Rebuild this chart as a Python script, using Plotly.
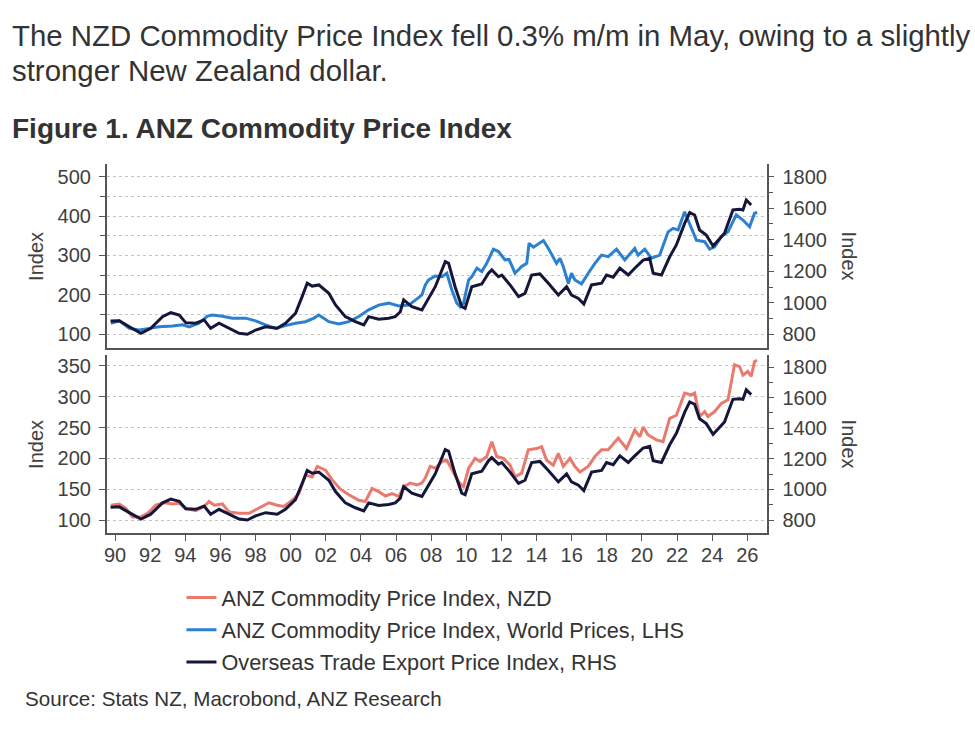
import plotly.graph_objects as go

# ---------------- text ----------------
TITLE_LINE_1 = "The NZD Commodity Price Index fell 0.3% m/m in May, owing to a slightly"
TITLE_LINE_2 = "stronger New Zealand dollar."
FIGURE_TITLE = "Figure 1. ANZ Commodity Price Index"
SOURCE_TEXT = "Source: Stats NZ, Macrobond, ANZ Research"
AXIS_TITLE = "Index"

NAME_NZD = "ANZ Commodity Price Index, NZD"
NAME_WORLD = "ANZ Commodity Price Index, World Prices, LHS"
NAME_OTI = "Overseas Trade Export Price Index, RHS"

# ---------------- data ----------------
# Overseas Trade Export Price Index (RHS, both panels)
oti_years = [1989.74, 1990.24, 1990.81, 1991.47, 1992.03, 1992.70, 1993.17, 1993.65, 1994.02, 1994.59,
             1995.07, 1995.44, 1995.92, 1996.49, 1997.06, 1997.53, 1998.00, 1998.57, 1999.23, 1999.70,
             2000.27, 2000.65, 2000.94, 2001.22, 2001.60, 2002.17, 2002.55, 2003.11, 2003.68, 2004.16,
             2004.44, 2005.01, 2005.58, 2005.95, 2006.24, 2006.43, 2006.90, 2007.47, 2008.23, 2008.80,
             2008.99, 2009.36, 2009.74, 2009.93, 2010.31, 2010.88, 2011.26, 2011.45, 2011.83, 2012.02,
             2012.49, 2012.97, 2013.34, 2013.72, 2014.19, 2014.67, 2015.24, 2015.71, 2015.99, 2016.38,
             2016.69, 2017.13, 2017.70, 2017.98, 2018.36, 2018.74, 2019.22, 2019.59, 2020.07, 2020.44,
             2020.64, 2021.11, 2021.58, 2021.96, 2022.43, 2022.72, 2023.00, 2023.28, 2023.66, 2024.05,
             2024.33, 2024.70, 2025.18, 2025.56, 2025.75, 2025.94, 2026.22]
oti_values = [884, 886, 848, 806, 838, 912, 937, 922, 874, 870,
              891, 838, 870, 838, 806, 800, 827, 848, 838, 870,
              933, 1039, 1124, 1106, 1113, 1060, 986, 912, 880, 859,
              912, 895, 902, 912, 943, 1018, 975, 954, 1102, 1261,
              1250, 1102, 975, 965, 1102, 1119, 1187, 1208, 1165, 1176,
              1113, 1039, 1060, 1176, 1183, 1124, 1049, 1102, 1049, 1028,
              992, 1113, 1124, 1176, 1162, 1219, 1176, 1219, 1271, 1282,
              1187, 1176, 1292, 1367, 1504, 1572, 1557, 1462, 1430, 1360,
              1398, 1441, 1589, 1593, 1589, 1652, 1620]

# ANZ Commodity Price Index, World Prices (LHS, top panel)
world_years = [1989.76, 1990.24, 1990.81, 1991.38, 1991.94, 1992.51, 1993.27, 1993.84, 1994.22, 1994.78,
               1995.26, 1995.54, 1996.11, 1996.68, 1997.43, 1998.00, 1998.57, 1999.14, 1999.70, 2000.27,
               2000.84, 2001.32, 2001.60, 2002.17, 2002.74, 2003.31, 2003.88, 2004.44, 2005.01, 2005.58,
               2006.15, 2006.72, 2007.19, 2007.47, 2007.66, 2007.85, 2008.23, 2008.61, 2008.89, 2009.18,
               2009.46, 2009.65, 2009.84, 2010.13, 2010.31, 2010.60, 2010.88, 2011.16, 2011.54, 2011.83,
               2012.20, 2012.43, 2012.77, 2013.15, 2013.44, 2013.57, 2013.82, 2014.39, 2014.67, 2015.14,
               2015.33, 2015.52, 2015.81, 2015.99, 2016.18, 2016.56, 2016.94, 2017.32, 2017.70, 2018.08,
               2018.55, 2019.02, 2019.59, 2019.78, 2020.16, 2020.54, 2021.01, 2021.49, 2021.77, 2022.06,
               2022.43, 2022.62, 2023.10, 2023.57, 2023.85, 2024.14, 2024.52, 2024.90, 2025.37, 2025.75,
               2026.13, 2026.41, 2026.56]
world_values = [128, 134, 115, 111, 115, 119, 121, 124, 119, 128,
                146, 149, 146, 141, 141, 134, 124, 115, 122, 128,
                132, 141, 149, 132, 126, 132, 145, 162, 174, 179,
                172, 174, 190, 200, 225, 238, 248, 246, 255, 212,
                179, 170, 179, 238, 246, 268, 259, 280, 316, 310,
                289, 290, 255, 272, 280, 331, 321, 338, 318, 280,
                293, 272, 229, 255, 238, 228, 255, 280, 301, 297,
                316, 289, 318, 301, 316, 293, 301, 360, 369, 365,
                411, 390, 339, 335, 316, 322, 348, 360, 403, 390,
                373, 407, 409]

# ANZ Commodity Price Index, NZD (LHS, bottom panel)
nzd_years = [1989.76, 1990.24, 1990.61, 1990.99, 1991.47, 1991.85, 1992.32, 1992.80, 1993.27, 1993.65,
             1994.02, 1994.59, 1995.07, 1995.35, 1995.64, 1996.11, 1996.49, 1997.06, 1997.63, 1998.19,
             1998.76, 1999.23, 1999.61, 2000.09, 2000.47, 2000.84, 2001.22, 2001.51, 2001.98, 2002.36,
             2002.83, 2003.31, 2003.88, 2004.25, 2004.63, 2005.01, 2005.39, 2005.77, 2006.15, 2006.43,
             2006.81, 2007.19, 2007.47, 2007.66, 2007.94, 2008.23, 2008.61, 2008.89, 2009.27, 2009.56,
             2009.84, 2010.13, 2010.50, 2010.78, 2011.16, 2011.45, 2011.73, 2012.11, 2012.49, 2012.77,
             2013.15, 2013.53, 2014.01, 2014.29, 2014.57, 2014.95, 2015.24, 2015.52, 2015.90, 2016.18,
             2016.47, 2016.94, 2017.32, 2017.70, 2018.08, 2018.65, 2019.12, 2019.59, 2019.88, 2020.07,
             2020.35, 2020.82, 2021.20, 2021.58, 2021.96, 2022.43, 2022.81, 2023.00, 2023.28, 2023.57,
             2023.76, 2024.14, 2024.52, 2024.90, 2025.27, 2025.56, 2025.75, 2026.03, 2026.22, 2026.41,
             2026.56]
nzd_values = [124, 126, 119, 105, 105, 111, 124, 128, 126, 127,
              119, 115, 122, 130, 124, 126, 113, 111, 111, 119,
              128, 124, 122, 132, 143, 173, 170, 187, 181, 165,
              150, 141, 132, 130, 151, 146, 139, 143, 138, 154,
              160, 157, 160, 168, 187, 184, 195, 197, 176, 162,
              154, 184, 200, 195, 203, 227, 203, 200, 189, 170,
              176, 214, 216, 219, 197, 189, 208, 187, 200, 187,
              178, 187, 203, 214, 214, 233, 216, 246, 235, 251,
              238, 230, 227, 265, 270, 306, 303, 306, 268, 276,
              268, 276, 289, 295, 352, 349, 335, 341, 333, 357,
              359]

x_tick_years = [1990, 1992, 1994, 1996, 1998, 2000, 2002, 2004, 2006, 2008,
                2010, 2012, 2014, 2016, 2018, 2020, 2022, 2024, 2026]
x_tick_labels = ["90", "92", "94", "96", "98", "00", "02", "04", "06", "08",
                 "10", "12", "14", "16", "18", "20", "22", "24", "26"]

# ---------------- styling ----------------
W, H = 975, 731
FONT = "Liberation Sans, Arial, sans-serif"
C_NZD = "#ea7a6e"
C_WORLD = "#2b80d0"
C_OTI = "#15173a"
AXIS_C = "#555555"
TICK_C = "#404040"
GRID_C = "#c4c4c4"
TEXT_C = "#333333"

def fx(px):
    return px / W

def fy(py):
    return 1 - py / H

X_DOMAIN = [fx(104), fx(766)]
X_RANGE = [1989.52, 2027.1]
TOP_DOMAIN = [fy(348), fy(164)]
BOT_DOMAIN = [fy(533), fy(355)]

fig = go.Figure()

fig.add_trace(go.Scatter(x=nzd_years, y=nzd_values, name=NAME_NZD, mode="lines",
                         line=dict(color=C_NZD, width=3), xaxis="x2", yaxis="y3",
                         legendgroup="a"))
fig.add_trace(go.Scatter(x=world_years, y=world_values, name=NAME_WORLD, mode="lines",
                         line=dict(color=C_WORLD, width=3), xaxis="x", yaxis="y",
                         legendgroup="b"))
fig.add_trace(go.Scatter(x=oti_years, y=oti_values, name=NAME_OTI, mode="lines",
                         line=dict(color=C_OTI, width=3), xaxis="x", yaxis="y2",
                         legendgroup="c"))
fig.add_trace(go.Scatter(x=oti_years, y=oti_values, name=NAME_OTI, mode="lines",
                         line=dict(color=C_OTI, width=3), xaxis="x2", yaxis="y4",
                         legendgroup="c", showlegend=False))

tickfont = dict(family=FONT, size=20, color=TICK_C)

common_y = dict(showline=True, linecolor=AXIS_C, linewidth=1.5, ticks="outside",
                ticklen=6, tickwidth=1.3, tickcolor=AXIS_C, tickfont=tickfont,
                zeroline=False, fixedrange=True, ticklabelstandoff=4)

fig.update_layout(
    width=W, height=H, autosize=False,
    margin=dict(l=0, r=0, t=0, b=0),
    paper_bgcolor="white", plot_bgcolor="white",
    showlegend=True,
    xaxis=dict(domain=X_DOMAIN, range=X_RANGE, anchor="y", showline=True,
               linecolor=AXIS_C, linewidth=1.5, showticklabels=False, ticks="",
               showgrid=False, zeroline=False),
    xaxis2=dict(domain=X_DOMAIN, range=X_RANGE, anchor="y3", showline=True,
                linecolor=AXIS_C, linewidth=1.5, tickmode="array",
                tickvals=x_tick_years, ticktext=x_tick_labels, ticks="outside",
                ticklen=6, tickwidth=1.3, tickcolor=AXIS_C, tickfont=tickfont,
                showgrid=False, zeroline=False, ticklabelstandoff=-3),
    yaxis=dict(domain=TOP_DOMAIN, range=[65.2, 532.2], anchor="x", side="left",
               tick0=0, dtick=100, showgrid=True, gridcolor=GRID_C, griddash="dot",
               gridwidth=1,
               minor=dict(dtick=50, tick0=0, ticks="outside", ticklen=5,
                          tickcolor=AXIS_C, showgrid=True, gridcolor=GRID_C,
                          griddash="dot", gridwidth=1),
               **common_y),
    yaxis2=dict(domain=TOP_DOMAIN, range=[713, 1880.6], anchor="x", side="right",
                overlaying="y", tick0=0, dtick=200, showgrid=False,
                minor=dict(dtick=100, tick0=0, ticks="outside", ticklen=5,
                           tickcolor=AXIS_C, showgrid=False),
                **common_y),
    yaxis3=dict(domain=BOT_DOMAIN, range=[78.9, 367.8], anchor="x2", side="left",
                tick0=0, dtick=50, showgrid=True, gridcolor=GRID_C, griddash="dot",
                gridwidth=1, **common_y),
    yaxis4=dict(domain=BOT_DOMAIN, range=[715, 1879], anchor="x2", side="right",
                overlaying="y3", tick0=0, dtick=200, showgrid=False,
                minor=dict(dtick=100, tick0=0, ticks="outside", ticklen=5,
                           tickcolor=AXIS_C, showgrid=False),
                **common_y),
    legend=dict(x=fx(179), y=fy(577), xanchor="left", yanchor="top",
                orientation="v", traceorder="grouped", tracegroupgap=1,
                itemwidth=30, bgcolor="rgba(0,0,0,0)",
                font=dict(family=FONT, size=21.7, color=TEXT_C)),
)

annotations = [
    dict(text=TITLE_LINE_1, x=fx(7), y=fy(35), xanchor="left", yanchor="middle",
         font=dict(family=FONT, size=29.4, color=TEXT_C)),
    dict(text=TITLE_LINE_2, x=fx(7), y=fy(70), xanchor="left", yanchor="middle",
         font=dict(family=FONT, size=29.4, color=TEXT_C)),
    dict(text="<b>" + FIGURE_TITLE + "</b>", x=fx(7), y=fy(128), xanchor="left",
         yanchor="middle", font=dict(family=FONT, size=28, color=TEXT_C)),
    dict(text=SOURCE_TEXT, x=fx(20), y=fy(698), xanchor="left", yanchor="middle",
         font=dict(family=FONT, size=20.6, color=TEXT_C)),
    dict(text=AXIS_TITLE, x=fx(33), y=fy(256), textangle=-90, xanchor="center",
         yanchor="middle", font=dict(family=FONT, size=20, color=TICK_C)),
    dict(text=AXIS_TITLE, x=fx(33), y=fy(444), textangle=-90, xanchor="center",
         yanchor="middle", font=dict(family=FONT, size=20, color=TICK_C)),
    dict(text=AXIS_TITLE, x=fx(849), y=fy(256), textangle=90, xanchor="center",
         yanchor="middle", font=dict(family=FONT, size=20, color=TICK_C)),
    dict(text=AXIS_TITLE, x=fx(849), y=fy(444), textangle=90, xanchor="center",
         yanchor="middle", font=dict(family=FONT, size=20, color=TICK_C)),
]
for a in annotations:
    a.update(xref="paper", yref="paper", showarrow=False)
fig.update_layout(annotations=annotations)

fig.write_html("out.html")
